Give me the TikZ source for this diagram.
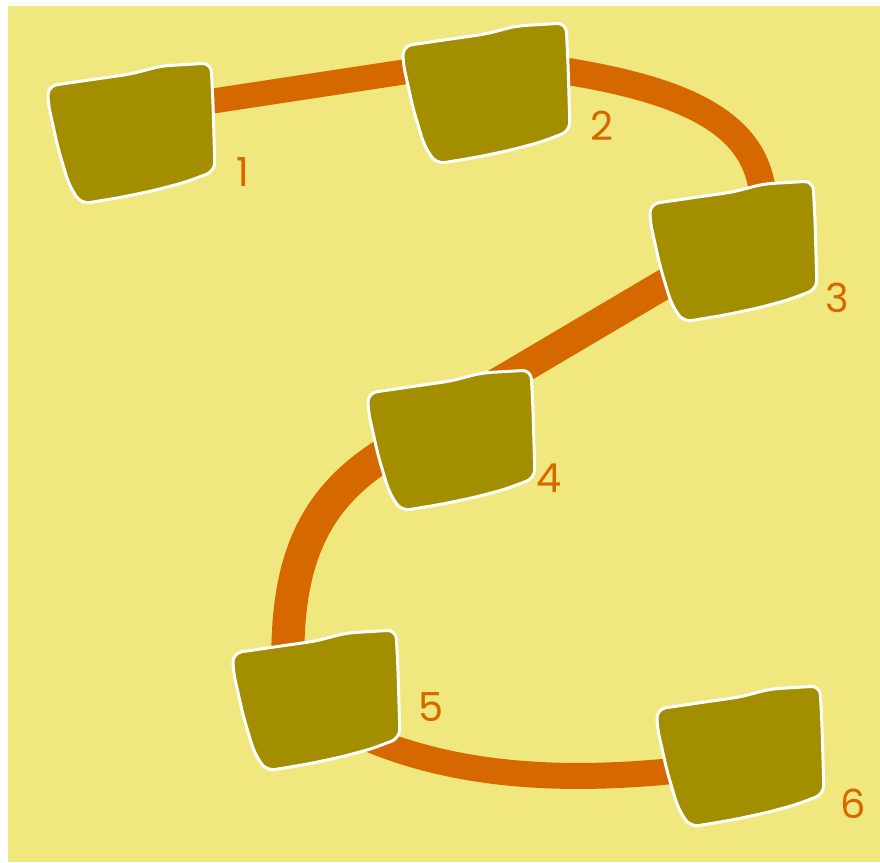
\documentclass[tikz,border=0pt]{standalone}
\usepackage{fontspec}
\setmainfont{Poppins}
\usetikzlibrary{calc}
\definecolor{bgyellow}{RGB}{240,232,126}
\definecolor{boxolive}{RGB}{163,142,0}
\definecolor{pathorange}{RGB}{214,104,0}
\tikzset{
  boxnode/.style={inner sep=0pt, minimum size=0pt},
  blob/.pic={
    \filldraw[fill=boxolive, draw=white, line width=3pt, line join=round, rounded corners=9pt]
      (-83,-30) -- (-83,-47) -- (-35,-54) -- (0,-59) -- (30,-67) -- (80,-70)
      -- (82,-30) -- (84,38) -- (55,49) -- (25,57) -- (-8,64) -- (-50,71)
      -- (-62,52) -- (-73,15) -- cycle;
  },
  link/.style={draw=pathorange, line cap=butt},
  numlabel/.style={text=pathorange, inner sep=0pt, font=\fontsize{40}{40}\selectfont}
}
\begin{document}
\begin{tikzpicture}[x=1pt,y=-1pt]
  \useasboundingbox (0,0) rectangle (880,862);
  \fill[white] (0,0) rectangle (880,862);
  \fill[bgyellow] (8,6) rectangle (880,862);

  % box anchors
  \node[boxnode] (b1) at (131,133) {};
  \node[boxnode] (b2) at (486,93) {};
  \node[boxnode] (b3) at (733,251) {};
  \node[boxnode] (b4) at (451,440) {};
  \node[boxnode] (b5) at (316,700) {};
  \node[boxnode] (b6) at (740,756) {};

  % connectors
  \draw[link, line width=25pt] ($(b1)+(49,-27)$) -- ($(b2)+(-56,-25)$);
  \draw[link, line width=27pt] ($(b2)+(59,-25)$) .. controls (700,90) and (768,130) .. ($(b3)+(30,-36)$);
  \draw[link, line width=30pt] ($(b3)+(-43,18)$) -- ($(b4)+(19,-41)$);
  \draw[link, line width=33pt] ($(b4)+(-51,5)$) .. controls (320,490) and (285,550) .. ($(b5)+(-28,-30)$);
  \draw[link, line width=26pt] ($(b5)+(44,35)$) .. controls (450,775) and (560,785) .. ($(b6)+(-40,12)$);

  % boxes
  \pic at (b1) {blob};
  \pic at (b2) {blob};
  \pic at (b3) {blob};
  \pic at (b4) {blob};
  \pic at (b5) {blob};
  \pic at (b6) {blob};

  % labels
  \node[numlabel] (l1) at (243,172) {1};
  \node[numlabel] (l2) at (602,126) {2};
  \node[numlabel] (l3) at (837,298) {3};
  \node[numlabel] (l4) at (549,478) {4};
  \node[numlabel] (l5) at (431,707) {5};
  \node[numlabel] (l6) at (853,804) {6};
\end{tikzpicture}
\end{document}
